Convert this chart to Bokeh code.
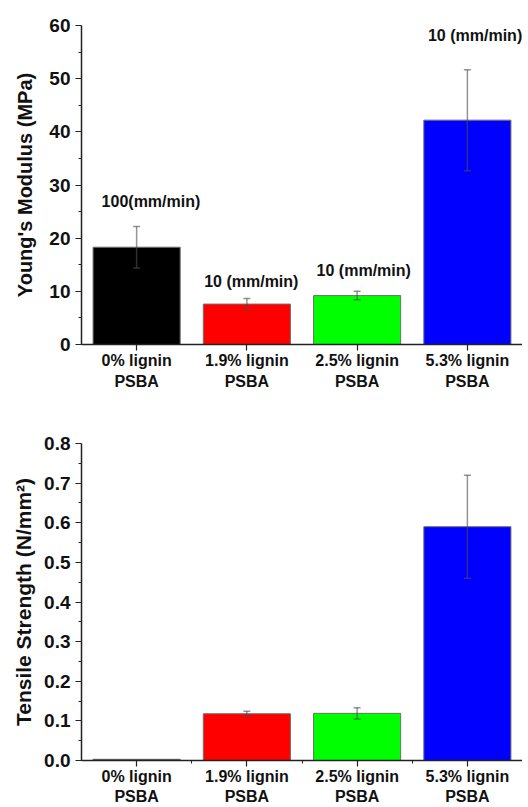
from bokeh.plotting import figure
from bokeh.layouts import column
from bokeh.models import (Range1d, FixedTicker, Whisker, TeeHead, ColumnDataSource,
                          Label, PrintfTickFormatter)
from bokeh.embed import file_html
from bokeh.resources import INLINE

# ---------------- data ----------------
categories = ["0% lignin\nPSBA", "1.9% lignin\nPSBA", "2.5% lignin\nPSBA", "5.3% lignin\nPSBA"]
bar_colors = ["#000000", "#FF0000", "#00FF00", "#0000FF"]
modulus = [18.3, 7.6, 9.2, 42.2]
modulus_err = [3.9, 1.05, 0.8, 9.5]
strength = [0.003, 0.118, 0.119, 0.590]
strength_err = [0.0, 0.006, 0.014, 0.13]
speed_labels = ["100(mm/min)", "10 (mm/min)", "10 (mm/min)", "10 (mm/min)"]
modulus_ticks = [0, 10, 20, 30, 40, 50, 60]
strength_ticks = [0.0, 0.1, 0.2, 0.3, 0.4, 0.5, 0.6, 0.7, 0.8]

FONT = "Liberation Sans"
AXIS_COLOR = "#222222"
ERR_COLOR = "#4d4d4d"
xs = [i + 1 for i in range(len(categories))]


def make_fig(height, border_top, border_bottom, values, errs, ticks, fmt,
             ylabel, ylabel_size, label_standoff, x_minor, xlab_line_height, xlab_standoff):
    p = figure(width=522, height=height, x_range=Range1d(0.5, 4.5),
               y_range=Range1d(ticks[0], ticks[-1]),
               output_backend="svg", toolbar_location=None,
               min_border_left=81, min_border_right=0,
               min_border_top=border_top, min_border_bottom=border_bottom)
    p.outline_line_color = None
    p.grid.visible = False
    p.background_fill_color = "white"
    p.border_fill_color = "white"

    src = ColumnDataSource(dict(x=xs, top=values, color=bar_colors))
    p.vbar(x="x", top="top", bottom=0, width=0.79, fill_color="color",
           line_color="#6e6e6e", line_width=1, source=src)

    ex = [x for x, e in zip(xs, errs) if e > 0]
    eu = [v + e for v, e in zip(values, errs) if e > 0]
    el = [v - e for v, e in zip(values, errs) if e > 0]
    esrc = ColumnDataSource(dict(base=ex, upper=eu, lower=el))
    w = Whisker(source=esrc, base="base", upper="upper", lower="lower",
                line_color=ERR_COLOR, line_width=1.5, line_alpha=0.6, level="overlay",
                upper_head=TeeHead(size=7, line_color=ERR_COLOR, line_width=1.5, line_alpha=0.6),
                lower_head=TeeHead(size=7, line_color=ERR_COLOR, line_width=1.5, line_alpha=0.6))
    p.add_layout(w)

    # x axis
    xa = p.xaxis[0]
    xa.ticker = FixedTicker(ticks=xs, minor_ticks=x_minor)
    xa.major_label_overrides = {x: c for x, c in zip(xs, categories)}
    xa.major_label_text_font = FONT
    xa.major_label_text_font_style = "bold"
    xa.major_label_text_font_size = "16px"
    xa.major_label_text_color = "#111111"
    xa.major_label_text_line_height = xlab_line_height
    xa.major_label_standoff = xlab_standoff
    xa.major_tick_in = 0
    xa.major_tick_out = 6
    xa.minor_tick_in = 0
    xa.minor_tick_out = 3
    xa.axis_line_width = 1.5
    xa.axis_line_color = AXIS_COLOR
    xa.major_tick_line_color = AXIS_COLOR
    xa.minor_tick_line_color = AXIS_COLOR
    xa.major_tick_line_width = 1.2

    # y axis
    ya = p.yaxis[0]
    minor = [(a + b) / 2 for a, b in zip(ticks[:-1], ticks[1:])]
    ya.ticker = FixedTicker(ticks=ticks, minor_ticks=minor)
    ya.formatter = PrintfTickFormatter(format=fmt)
    ya.major_label_text_font = FONT
    ya.major_label_text_font_style = "bold"
    ya.major_label_text_font_size = "19px"
    ya.major_label_text_color = "#111111"
    ya.major_label_standoff = 5
    ya.major_tick_in = 0
    ya.major_tick_out = 6
    ya.minor_tick_in = 0
    ya.minor_tick_out = 3
    ya.axis_line_width = 1.5
    ya.axis_line_color = AXIS_COLOR
    ya.major_tick_line_color = AXIS_COLOR
    ya.minor_tick_line_color = AXIS_COLOR
    ya.major_tick_line_width = 1.2
    ya.axis_label = ylabel
    ya.axis_label_text_font = FONT
    ya.axis_label_text_font_style = "bold"
    ya.axis_label_text_font_size = ylabel_size
    ya.axis_label_text_color = "#111111"
    ya.axis_label_standoff = label_standoff
    return p


p1 = make_fig(399, 25, 55, modulus, modulus_err, modulus_ticks, "%d",
              "Young's Modulus (MPa)", "20px", 10, [], 1.25, 1)
p2 = make_fig(408, 44, 45, strength, strength_err, strength_ticks, "%.1f",
              "Tensile Strength (N/mm²)", "21px", 6, [1.5, 2.5, 3.5], 1.2, 1)

# speed annotations on the modulus chart
label_pos = [(1.13, 26.9), (2.04, 11.85), (3.06, 13.9), (4.07, 58.1)]
for (lx, ly), txt in zip(label_pos, speed_labels):
    p1.add_layout(Label(x=lx, y=ly, text=txt, text_align="center",
                        text_baseline="middle", text_font=FONT,
                        text_font_style="bold", text_font_size="16px",
                        text_color="#111111"))

layout = column(p1, p2, spacing=0)
open("out.html", "w").write(file_html(layout, INLINE))
